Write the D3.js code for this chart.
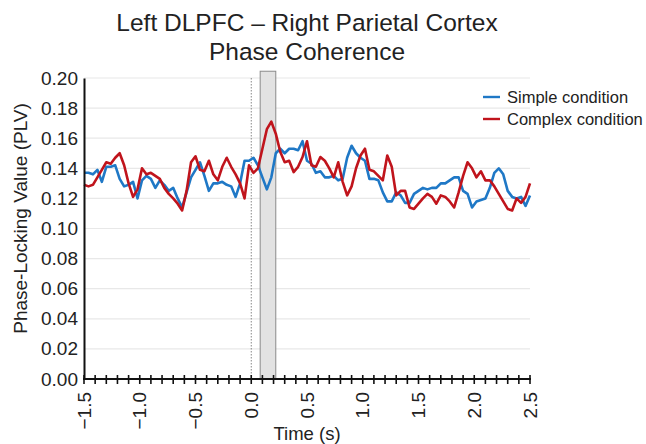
<!DOCTYPE html>
<html>
<head>
<meta charset="utf-8">
<script src="https://cdn.jsdelivr.net/npm/d3@7/dist/d3.min.js"></script>
<style>
  html, body { margin: 0; padding: 0; background: #fff; }
  svg { display: block; font-family: "Liberation Sans", Arial, sans-serif; }
</style>
</head>
<body>
<svg id="chart" width="646" height="444"></svg>
<script>
// Time axis: -1.5 s to 2.5 s in 0.04 s steps
const tStart = -1.5;
const tStep = 0.04;

// Phase-locking values, simple condition
const simpleValues = [
  0.137, 0.137, 0.136, 0.139, 0.131, 0.141, 0.141, 0.142, 0.133, 0.128,
  0.129, 0.131, 0.120, 0.132, 0.135, 0.133, 0.127, 0.132, 0.129, 0.125,
  0.127, 0.120, 0.114, 0.124, 0.134, 0.139, 0.144, 0.135, 0.125, 0.130,
  0.130, 0.131, 0.129, 0.128, 0.121, 0.130, 0.145, 0.145, 0.147, 0.142,
  0.134, 0.126, 0.134, 0.150, 0.153, 0.150, 0.153, 0.153, 0.152, 0.158,
  0.145, 0.143, 0.137, 0.138, 0.134, 0.134, 0.135, 0.132, 0.133, 0.147,
  0.155, 0.150, 0.147, 0.145, 0.133, 0.133, 0.132, 0.124, 0.118, 0.118,
  0.124, 0.122, 0.117, 0.117, 0.123, 0.125, 0.127, 0.126, 0.127, 0.127,
  0.130, 0.130, 0.132, 0.134, 0.134, 0.125, 0.123, 0.114, 0.118, 0.119,
  0.120, 0.127, 0.137, 0.140, 0.136, 0.125, 0.121, 0.120, 0.121, 0.115,
  0.122
];

// Phase-locking values, complex condition
const complexValues = [
  0.129, 0.128, 0.129, 0.134, 0.139, 0.144, 0.143, 0.147, 0.150, 0.142,
  0.130, 0.121, 0.126, 0.140, 0.136, 0.137, 0.135, 0.133, 0.127, 0.123,
  0.120, 0.1165, 0.112, 0.125, 0.144, 0.148, 0.139, 0.138, 0.145, 0.136,
  0.132, 0.141, 0.147, 0.141, 0.136, 0.130, 0.120, 0.142, 0.137, 0.140,
  0.153, 0.166, 0.171, 0.163, 0.151, 0.144, 0.145, 0.1375, 0.141, 0.1475,
  0.158, 0.142, 0.141, 0.1475, 0.145, 0.140, 0.134, 0.144, 0.131, 0.122,
  0.128, 0.140, 0.1485, 0.153, 0.139, 0.138, 0.135, 0.132, 0.1485, 0.141,
  0.122, 0.125, 0.125, 0.114, 0.113, 0.1165, 0.120, 0.123, 0.121, 0.1165,
  0.122, 0.121, 0.118, 0.114, 0.124, 0.135, 0.144, 0.140, 0.134, 0.138,
  0.132, 0.132, 0.128, 0.123, 0.118, 0.113, 0.112, 0.120, 0.117, 0.121,
  0.130
];

const seriesNames = ["Simple condition", "Complex condition"];
const seriesColors = ["#1f78c6", "#c0141c"];

// Axis ticks
const xTickLabels = [-1.5, -1.0, -0.5, 0.0, 0.5, 1.0, 1.5, 2.0, 2.5];
const yTickLabels = [0.00, 0.02, 0.04, 0.06, 0.08, 0.10, 0.12, 0.14, 0.16, 0.18, 0.20];

// Shaded window after stimulus onset (s)
const windowStart = 0.08;
const windowEnd = 0.22;

const svg = d3.select("#chart");
const x = d3.scaleLinear().domain([-1.5, 2.5]).range([84, 530]);
const y = d3.scaleLinear().domain([0, 0.2]).range([379, 78]);

const times = simpleValues.map((_, i) => tStart + i * tStep);

// Horizontal gridlines
svg.append("g")
  .selectAll("line")
  .data(yTickLabels.slice(1))
  .join("line")
  .attr("x1", x(-1.5)).attr("x2", x(2.5))
  .attr("y1", d => y(d)).attr("y2", d => y(d))
  .attr("stroke", "#e8e8e8").attr("stroke-width", 1.2);

// Shaded window
svg.append("rect")
  .attr("x", x(windowStart))
  .attr("y", y(0.2045))
  .attr("width", x(windowEnd) - x(windowStart))
  .attr("height", y(0) - y(0.2045))
  .attr("fill", "#e2e2e2")
  .attr("stroke", "#8a8a8a")
  .attr("stroke-width", 1);

// Stimulus onset
svg.append("line")
  .attr("x1", x(0)).attr("x2", x(0))
  .attr("y1", y(0.2)).attr("y2", y(0))
  .attr("stroke", "#888").attr("stroke-width", 1)
  .attr("stroke-dasharray", "1.5,1.5");

// Series lines
const line = d3.line()
  .x((d, i) => x(times[i]))
  .y(d => y(d));

[simpleValues, complexValues].forEach((vals, k) => {
  svg.append("path")
    .datum(vals)
    .attr("d", line)
    .attr("fill", "none")
    .attr("stroke", seriesColors[k])
    .attr("stroke-width", 2.6)
    .attr("stroke-linejoin", "round");
});

// Y axis
const yAxis = d3.axisLeft(y)
  .tickValues(yTickLabels)
  .tickFormat(d3.format(".2f"))
  .tickSize(0)
  .tickPadding(6);
const gy = svg.append("g").attr("transform", `translate(${x(-1.5)},0)`).call(yAxis);
gy.select(".domain").attr("stroke", "#111").attr("stroke-width", 2);
gy.selectAll("text").attr("font-size", 19).attr("fill", "#222")
  .attr("font-family", "'Liberation Sans', Arial, sans-serif");

// X axis: minor ticks every 0.1 s crossing the axis line
const minorTicks = d3.range(0, 41).map(i => -1.5 + i * 0.1);
const gx = svg.append("g").attr("transform", `translate(0,${y(0)})`);
gx.append("line")
  .attr("x1", x(-1.5) - 1).attr("x2", x(2.5) + 1)
  .attr("stroke", "#111").attr("stroke-width", 2);
gx.selectAll("line.tick")
  .data(minorTicks)
  .join("line")
  .attr("class", "tick")
  .attr("x1", d => x(d)).attr("x2", d => x(d))
  .attr("y1", -4).attr("y2", 5)
  .attr("stroke", "#111").attr("stroke-width", 1.6);
gx.selectAll("text")
  .data(xTickLabels)
  .join("text")
  .attr("transform", d => `translate(${x(d)},13) rotate(-90)`)
  .attr("text-anchor", "end")
  .attr("dy", "0.35em")
  .attr("font-size", 19)
  .attr("fill", "#222")
  .text(d => d3.format(".1f")(d));

// Axis titles
svg.append("text")
  .attr("x", (x(-1.5) + x(2.5)) / 2)
  .attr("y", 440)
  .attr("text-anchor", "middle")
  .attr("font-size", 18.5)
  .attr("fill", "#222")
  .text("Time (s)");

svg.append("text")
  .attr("transform", `translate(27,${(y(0) + y(0.2)) / 2 - 10}) rotate(-90)`)
  .attr("text-anchor", "middle")
  .attr("font-size", 19)
  .attr("fill", "#222")
  .text("Phase-Locking Value (PLV)");

// Chart title
const title = svg.append("text")
  .attr("text-anchor", "middle")
  .attr("font-size", 24.5)
  .attr("fill", "#222");
title.append("tspan").attr("x", 307).attr("y", 31).text("Left DLPFC \u2013 Right Parietal Cortex");
title.append("tspan").attr("x", 307).attr("y", 60).text("Phase Coherence");

// Legend
const legend = svg.append("g");
seriesNames.forEach((name, k) => {
  const ly = 97 + k * 22;
  legend.append("line")
    .attr("x1", 483).attr("x2", 500)
    .attr("y1", ly).attr("y2", ly)
    .attr("stroke", seriesColors[k]).attr("stroke-width", 2.4);
  legend.append("text")
    .attr("x", 507).attr("y", ly)
    .attr("dy", "0.35em")
    .attr("font-size", 16.5)
    .attr("fill", "#222")
    .text(name);
});
</script>
</body>
</html>
